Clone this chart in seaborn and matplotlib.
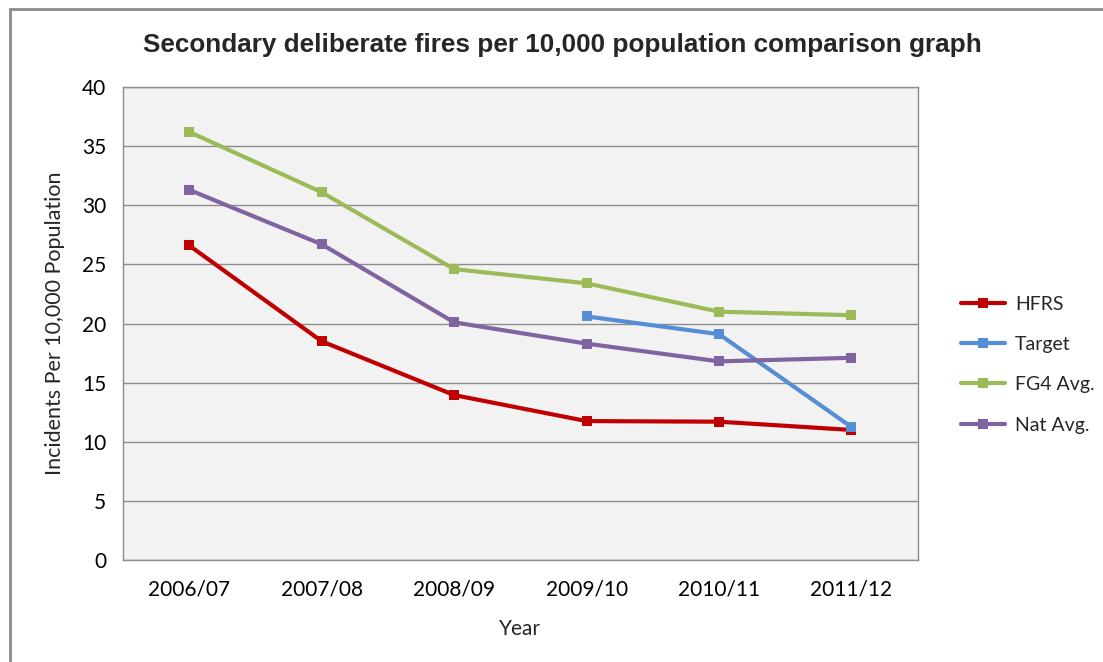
import numpy as np
import matplotlib.pyplot as plt
import seaborn as sns
import pandas as pd
from matplotlib.patches import Rectangle

# -----------------------------
# Data
# -----------------------------
years = ["2006/07", "2007/08", "2008/09", "2009/10", "2010/11", "2011/12"]
hfrs = [26.6, 18.5, 13.95, 11.75, 11.7, 11.0]
target = [np.nan, np.nan, np.nan, 20.6, 19.1, 11.25]
fg4_avg = [36.2, 31.1, 24.6, 23.4, 21.0, 20.7]
nat_avg = [31.3, 26.7, 20.1, 18.3, 16.8, 17.1]

series = ["HFRS", "Target", "FG4 Avg.", "Nat Avg."]
colors = ["#C00000", "#558ED5", "#9BBB59", "#8064A2"]

wide = pd.DataFrame(
    {"HFRS": hfrs, "Target": target, "FG4 Avg.": fg4_avg, "Nat Avg.": nat_avg},
    index=years,
)
wide.index.name = "Year"
df = wide.reset_index().melt(id_vars="Year", var_name="Series", value_name="Value").dropna()

# -----------------------------
# Plot
# -----------------------------
sns.set_style("white")
plt.rcParams["font.family"] = ["Lato", "DejaVu Sans"]

fig = plt.figure(figsize=(11.03, 6.62), dpi=100)
ax = fig.add_axes([0.1115, 0.154, 0.7205, 0.7146])
ax.set_facecolor("#F2F2F2")

sns.lineplot(
    data=df, x="Year", y="Value", hue="Series",
    hue_order=series, palette=colors,
    marker="s", markersize=7.5, markeredgewidth=0,
    linewidth=3, ax=ax, sort=False,
)

ax.set_xlim(-0.5, 5.5)
ax.set_ylim(0, 40)
ax.set_yticks(range(0, 41, 5))
ax.yaxis.grid(True, color="#8C8C8C", linewidth=1)
ax.set_axisbelow(True)
for s in ax.spines.values():
    s.set_color("#8C8C8C")
    s.set_linewidth(1)
ax.tick_params(axis="x", labelsize=15, length=0, pad=14, colors="#000000")
ax.tick_params(axis="y", labelsize=15, length=0, pad=12, colors="#000000")

ax.set_xlabel("Year", fontsize=15, labelpad=14)
ax.set_ylabel("Incidents Per 10,000 Population", fontsize=15.5, labelpad=12)

fig.text(0.51, 0.932, "Secondary deliberate fires per 10,000 population comparison graph",
         ha="center", va="center", fontsize=18.8, fontweight="bold", family="Liberation Sans")

leg = ax.legend(
    loc="upper left", bbox_to_anchor=(0.855, 0.58), bbox_transform=fig.transFigure,
    frameon=False, fontsize=14, handlelength=2.3, labelspacing=1.2,
    handletextpad=0.5,
)

fig.patches.append(Rectangle((0.009, -0.05), 1.2, 1.036, transform=fig.transFigure,
                             fill=False, edgecolor="#8C8C8C", linewidth=2))

plt.savefig("out.png", dpi=100)
